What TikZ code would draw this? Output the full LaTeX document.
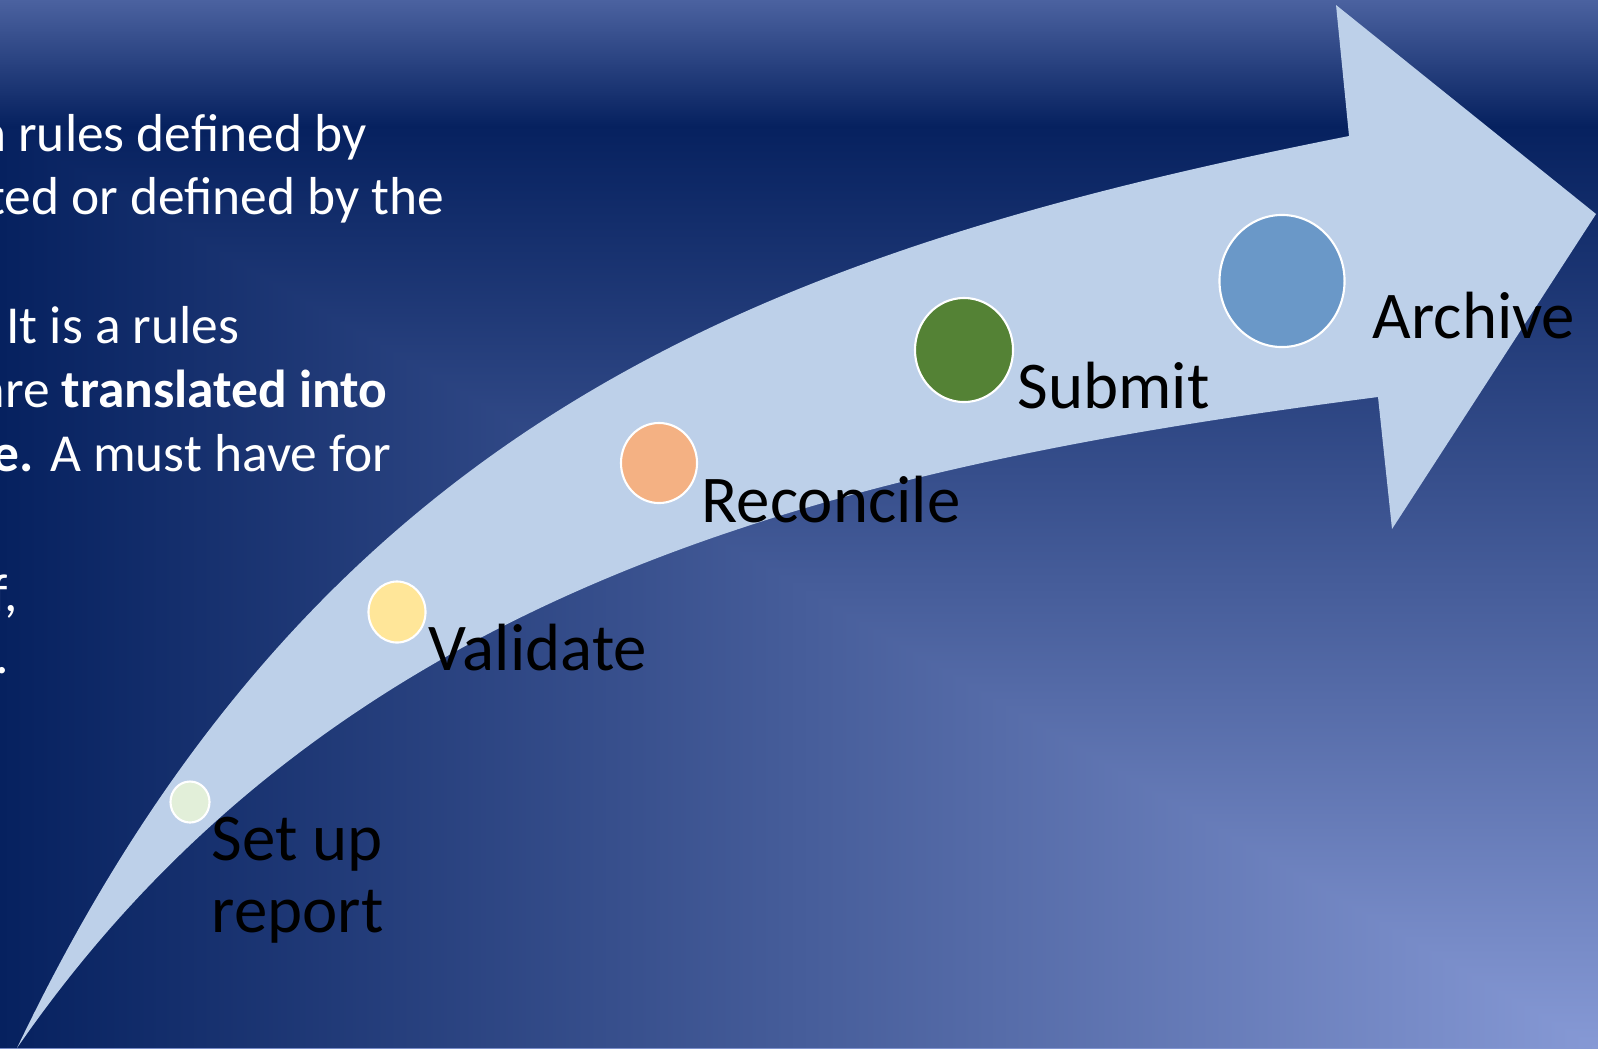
\documentclass[tikz,border=0pt]{standalone}
\usepackage{fontspec}
\setmainfont{Carlito}
\usetikzlibrary{shapes.geometric}

\definecolor{bgtop}{HTML}{4B62A0}
\definecolor{bgdark}{HTML}{06215F}
\definecolor{bglight}{HTML}{8699D5}
\definecolor{arrowfill}{HTML}{BDD0E9}
\definecolor{setupc}{HTML}{E2EFD9}
\definecolor{validc}{HTML}{FFE699}
\definecolor{reconc}{HTML}{F4B183}
\definecolor{submitc}{HTML}{548235}
\definecolor{archivec}{HTML}{6A98C8}

\begin{document}
\begin{tikzpicture}[x=0.01cm, y=-0.01cm,
  dot/.style={draw=white, line width=0.6pt, shape=ellipse, inner sep=0pt},
  lbl/.style={anchor=base west, inner sep=0pt, text=black, align=left,
    font=\fontsize{19}{20.2}\selectfont},
  txt/.style={anchor=base east, inner sep=0pt, text=white,
    font=\fontsize{15.2}{17.9}\selectfont}]

\useasboundingbox (0,0) rectangle (1598,1048);
\clip (0,0) rectangle (1598,1048);

% background
\shade[top color=bgdark, bottom color=bglight] (0,125) rectangle (1598,1048);
\shade[left color=bgdark, right color=bglight] (0,125) -- (0,1048) -- (1598,1048) -- cycle;
\shade[top color=bgtop, bottom color=bgdark] (0,0) rectangle (1598,126);

% text on the left
\node[txt] (t1) at (367,151) {n rules defined by};
\node[txt] (t2) at (445,214) {ted or defined by the};
\node[txt] (t3) at (240,343) {It is a rules};
\node[txt] (t4) at (388,407) {are \textbf{translated into}};
\node[txt] (t5) at (392,471) {\textbf{e.} A must have for};
\node[txt] (t6) at (19,611) {f,};
\node[txt] (t7) at (10,673) {.};

% the arrow
\fill[arrowfill] (17,1048) .. controls (318,418) and (765,252) .. (1349,136)
  -- (1336,5) -- (1596,214) -- (1392,529) -- (1378,397)
  .. controls (850,465) and (340,580) .. (17,1048) -- cycle;

% steps
\node[dot, fill=setupc, minimum width=3.9mm, minimum height=4.1mm] (setup) at (190,802) {};
\node[dot, fill=validc, minimum width=5.7mm, minimum height=6.1mm] (valid) at (397,612) {};
\node[dot, fill=reconc, minimum width=7.6mm, minimum height=8mm] (recon) at (659,463) {};
\node[dot, fill=submitc, minimum width=9.8mm, minimum height=10.4mm] (submit) at (964,350) {};
\node[dot, fill=archivec, minimum width=12.5mm, minimum height=13.2mm] (archive) at (1282,281) {};

\node[lbl] (setuptxt) at (211,932) {Set up\\report};
\node[lbl] (validtxt) at (428,670) {Validate};
\node[lbl] (recontxt) at (701,522) {Reconcile};
\node[lbl] (submittxt) at (1017,408) {Submit};
\node[lbl] (archivetxt) at (1372,338) {Archive};
\end{tikzpicture}
\end{document}
